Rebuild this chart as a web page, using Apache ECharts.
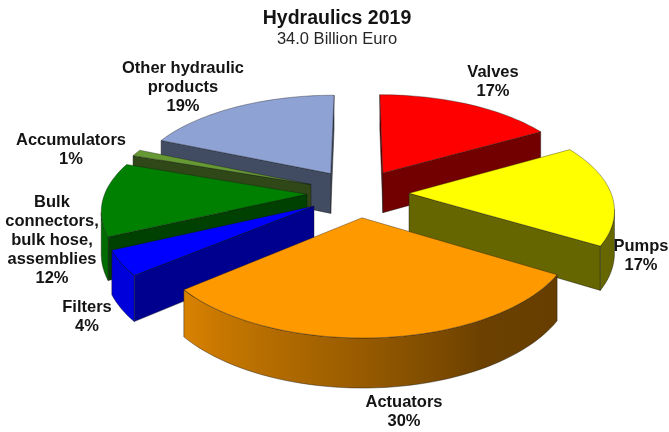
<!DOCTYPE html>
<html><head><meta charset="utf-8">
<style>html,body{margin:0;padding:0;background:#fff}#c{width:669px;height:432px}</style>
<script src="https://cdn.jsdelivr.net/npm/echarts@6/dist/echarts.min.js"></script>
</head><body><div id="c"></div>
<script>
// Data, clockwise from the top of the pie (slice sizes; labels show them rounded)
const categories = ['Valves','Pumps','Actuators','Filters','Bulk\nconnectors,\nbulk hose,\nassemblies','Accumulators','Other hydraulic\nproducts'];
const shares = [16.8,16.8,30.4,4.1,12.2,1.1,18.6];
const titleText = 'Hydraulics 2019';
const subtitleText = '34.0 Billion Euro';

// Styles
const topColors = ['#ff0000','#ffff00','#ff9900','#0000ff','#008000','#669933','#8ea2d4'];
const sideShade = [0.45,0.40,0.40,0.56,0.50,0.47,0.46];
const labelCenters = [[493,82],[641,256],[404,412],[87,317],[52,240],[71,150],[183,87]];

// Pie projection parameters
const cx = 358, y0 = 193, vanishY = -464, k = 0.000715;
const radius = 202, explode = 51, depth = 41;

function project(u, v, z){
  const s = 1/(1 - k*v);
  return [cx + u*s, vanishY + (y0 - vanishY)*s + depth*s*z];
}
function shade(hex, f){
  const n = parseInt(hex.slice(1),16);
  const c = [n>>16&255, n>>8&255, n&255].map(x=>Math.round(x*f));
  return 'rgb('+c.join(',')+')';
}
// Brightness of the rim by its direction (degrees clockwise from the back)
function rimShade(deg){
  const pts = [[0,.45],[110,.40],[150,.42],[185,.62],[232,.86],[250,.85],[300,.6],[360,.45]];
  for(let i=1;i<pts.length;i++){
    if(deg<=pts[i][0]){
      const a=pts[i-1],b=pts[i];
      return a[1]+(b[1]-a[1])*(deg-a[0])/(b[0]-a[0]);
    }
  }
  return .45;
}
const total = shares.reduce((a,b)=>a+b,0);
const edge = 'rgba(20,20,20,0.6)';

function renderSlice(params, api){
  const i = params.dataIndex;
  let before = 0;
  for(let j=0;j<i;j++) before += shares[j];
  const a0 = before/total*360, a1 = (before+api.value(0))/total*360;
  const mid = (a0+a1)/2*Math.PI/180;
  const au = Math.sin(mid)*explode, av = -Math.cos(mid)*explode;
  const arc = [];
  const steps = Math.max(2, Math.ceil((a1-a0)/2));
  for(let n=0;n<=steps;n++){
    const d = a0+(a1-a0)*n/steps, t = d*Math.PI/180;
    arc.push({d, u:au+Math.sin(t)*radius, v:av-Math.cos(t)*radius});
  }
  const apexT = project(au,av,0), apexB = project(au,av,1);
  const z2 = 100+Math.round(av);
  const base = topColors[i];
  const children = [];
  const poly = (points, fill, lw) => children.push({
    type:'polygon', z2, shape:{points},
    style:{fill, stroke:edge, lineWidth:lw===undefined?0.7:lw, lineJoin:'round'}
  });
  const first = arc[0], last = arc[arc.length-1];
  const side = shade(base, sideShade[i]);
  // radial faces
  if(project(first.u,first.v,0)[0] < apexT[0])
    poly([apexT, project(first.u,first.v,0), project(first.u,first.v,1), apexB], side);
  if(project(last.u,last.v,0)[0] > apexT[0])
    poly([apexT, project(last.u,last.v,0), project(last.u,last.v,1), apexB], side);
  // visible run of the rim
  const runTop = [], runBottom = [], stops = [];
  for(let n=0;n<arc.length;n++){
    const p = project(arc[n].u,arc[n].v,0);
    const q = n<arc.length-1 ? project(arc[n+1].u,arc[n+1].v,0) : null;
    const o = n>0 ? project(arc[n-1].u,arc[n-1].v,0) : null;
    if((q && q[0]<p[0]) || (o && p[0]<o[0])){
      runTop.push(p);
      runBottom.push(project(arc[n].u,arc[n].v,1));
      stops.push({x:p[0], f:rimShade(arc[n].d)});
    }
  }
  if(runTop.length>1){
    const xMax = stops[0].x, xMin = stops[stops.length-1].x;
    const fill = {
      type:'linear', x:xMin, y:0, x2:xMax, y2:0, global:true,
      colorStops: stops.slice().reverse().map(s=>({offset:(s.x-xMin)/(xMax-xMin), color:shade(base,s.f)}))
    };
    poly(runTop.concat(runBottom.reverse()), fill);
  }
  // top face
  poly([apexT].concat(arc.map(p=>project(p.u,p.v,0))), base, 0.6);
  // label
  children.push({
    type:'text', z2:1000,
    style:{
      text: categories[i]+'\n'+Math.round(api.value(0))+'%',
      x: labelCenters[i][0], y: labelCenters[i][1],
      align:'center', verticalAlign:'middle',
      fontFamily:'"Liberation Sans", Arial, sans-serif',
      fontWeight:'bold', fontSize:16.5, lineHeight:19, fill:'#141414'
    }
  });
  return {type:'group', children};
}

const chart = echarts.init(document.getElementById('c'), null, {renderer:'canvas'});
chart.setOption({
  animation:false,
  backgroundColor:'#fff',
  title:{
    left:332, top:3, textAlign:'center', itemGap:1,
    text:titleText, subtext:subtitleText,
    textStyle:{fontFamily:'"Liberation Sans", Arial, sans-serif', fontWeight:'bold', fontSize:19.5, color:'#141414', lineHeight:21},
    subtextStyle:{fontFamily:'"Liberation Sans", Arial, sans-serif', fontSize:16.5, color:'#262626', lineHeight:18}
  },
  series:[{
    type:'custom', coordinateSystem:'none', silent:true,
    renderItem:renderSlice,
    data:shares.map((v,i)=>({name:categories[i], value:[v]}))
  }]
});
</script></body></html>
